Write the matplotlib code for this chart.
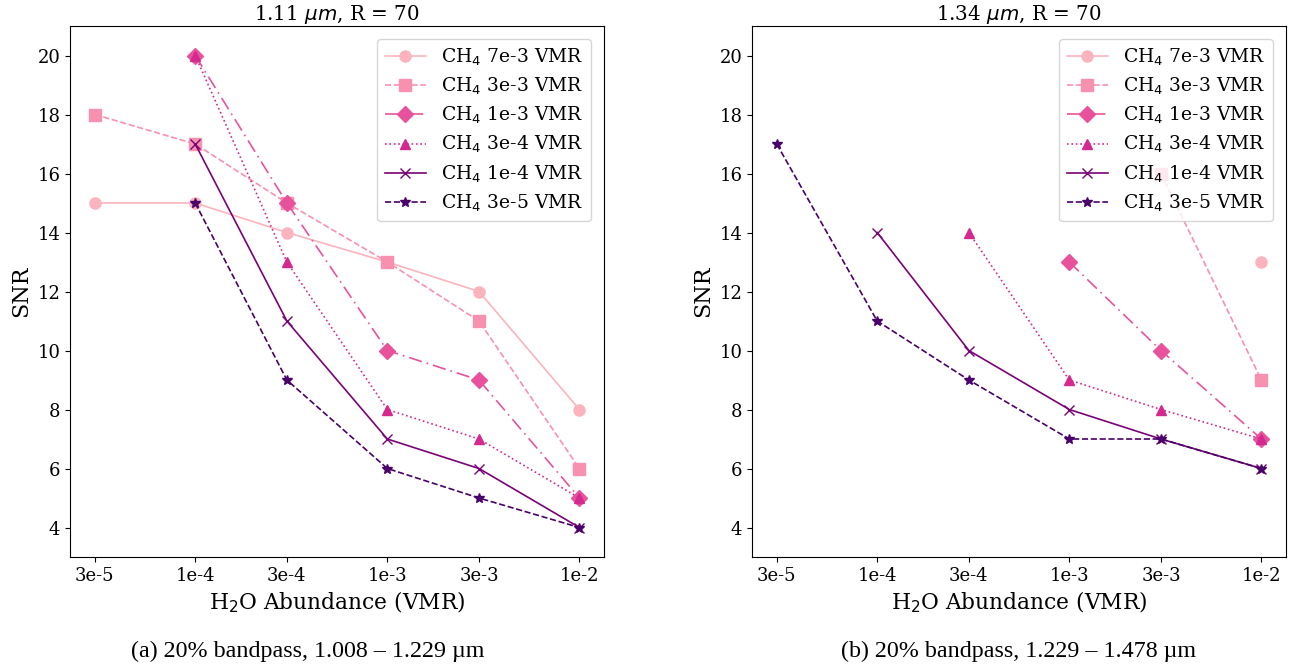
import numpy as np
import matplotlib
matplotlib.use('Agg')
import matplotlib.pyplot as plt

# ─────────── data ───────────
H2O = [3e-5, 1e-4, 3e-4, 1e-3, 3e-3, 1e-2]
H2O_LABELS = ['3e-5', '1e-4', '3e-4', '1e-3', '3e-3', '1e-2']
CH4_LABELS = ['7e-3', '3e-3', '1e-3', '3e-4', '1e-4', '3e-5']

nan = np.nan
# 1.11 um, R = 70
SNR_111 = [
    [15, 15, 14, 13, 12, 8],
    [18, 17, 15, 13, 11, 6],
    [nan, 20, 15, 10, 9, 5],
    [nan, 20, 13, 8, 7, 5],
    [nan, 17, 11, 7, 6, 4],
    [nan, 15, 9, 6, 5, 4],
]
# 1.34 um, R = 70
SNR_134 = [
    [nan, nan, nan, nan, nan, 13],
    [nan, nan, nan, nan, 16, 9],
    [nan, nan, nan, 13, 10, 7],
    [nan, nan, 14, 9, 8, 7],
    [nan, 14, 10, 8, 7, 6],
    [17, 11, 9, 7, 7, 6],
]

# ─────────── styles ───────────
COLORS = ['#fbb4bd', '#f890b0', '#e8529d', '#d42a8f', '#7a0177', '#49006a']
MARKERS = ['o', 's', 'D', '^', 'x', '*']
LINESTYLES = ['-', '--', (0, (8, 3, 1, 3)), ':', '-', '--']
MSIZES = [8, 8, 8, 7, 7, 7]

plt.rcParams['font.family'] = ['DejaVu Serif']


def draw(ax, data, title):
    for i, vals in enumerate(data):
        ax.plot(H2O, vals, color=COLORS[i], marker=MARKERS[i], ls=LINESTYLES[i],
                ms=MSIZES[i], lw=1.2, label=f'CH$_4$ {CH4_LABELS[i]} VMR')
    ax.set_xscale('log')
    ax.set_xticks(H2O)
    ax.set_xticklabels(H2O_LABELS)
    ax.minorticks_off()
    ax.set_xlim(2.23e-5, 1.343e-2)
    ax.set_ylim(3, 21)
    ax.set_yticks(range(4, 21, 2))
    ax.tick_params(labelsize=13)
    ax.set_xlabel('H$_2$O Abundance (VMR)', fontsize=15.7, labelpad=4)
    ax.set_ylabel('SNR', fontsize=16)
    ax.set_title(title, fontsize=14.3, pad=4)
    ax.legend(loc='upper right', fontsize=13.5, handlelength=2.2,
              labelspacing=0.42, borderaxespad=0.7)


fig = plt.figure(figsize=(12.99, 6.65), dpi=100)
ax1 = fig.add_axes([0.0539, 0.1624, 0.4111, 0.7985])
ax2 = fig.add_axes([0.5789, 0.1624, 0.4111, 0.7985])
draw(ax1, SNR_111, r'1.11 $\mu m$, R = 70')
draw(ax2, SNR_134, r'1.34 $\mu m$, R = 70')

fig.text(0.2366, 0.012, '(a) 20% bandpass, 1.008 – 1.229 µm', ha='center',
         va='baseline', fontsize=17.3, family='Liberation Serif')
fig.text(0.7844, 0.012, '(b) 20% bandpass, 1.229 – 1.478 µm', ha='center',
         va='baseline', fontsize=17.3, family='Liberation Serif')

fig.savefig('out.png', dpi=100)
